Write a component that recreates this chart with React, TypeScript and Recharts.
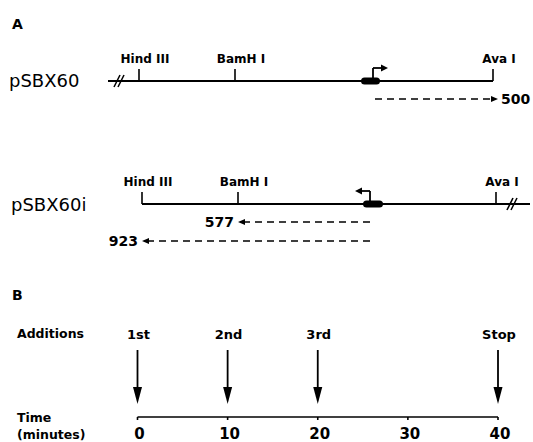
import React from "react";
import {
  ComposedChart,
  Line,
  XAxis,
  YAxis,
  ReferenceLine,
  ReferenceDot,
  ReferenceArea,
} from "recharts";

// restriction map, positions in bp (0 = Hind III site of pSBX60)
const siteNames = ["Hind III", "BamH I", "Ava I"];
const pSBX60Sites = [0, 384, 1416];
const pSBX60iSites = [12, 396, 1428];
const pSBX60Extent = [-124, 1416];
const pSBX60iExtent = [12, 1564];
const pSBX60Break = -76;
const pSBX60iBreak = 1496;
const pSBX60Box = [888, 964];
const pSBX60iBox = [896, 976];
const pSBX60Promoter = [936, 996]; // start, arrow tip
const pSBX60iPromoter = [924, 864];

// run-off transcripts (start, end, length)
const pSBX60Transcripts = [{ from: 944, to: 1436, label: "500" }];
const pSBX60iTranscripts = [
  { from: 924, to: 396, label: "577" },
  { from: 924, to: 12, label: "923" },
];

// panel B
const additionLabels = ["1st", "2nd", "3rd", "Stop"];
const additionTimes = [0, 10, 20, 40];
const timeTicks = [0, 10, 20, 30, 40];

const FONT = "'DejaVu Sans', Arial, sans-serif";
const INK = "#000";
const BP_PER_PX = 4;

const mapData = [
  { x: pSBX60Extent[0], y: 0 },
  { x: pSBX60iExtent[1], y: 0 },
];
const timeData = timeTicks.map((t) => ({ t, y: 0 }));

const textShape =
  (text: string, anchor: string, dx: number, size: number) => (p: any) =>
    (
      <text
        x={p.cx + dx}
        y={p.cy}
        dy="0.36em"
        textAnchor={anchor}
        fontFamily={FONT}
        fontSize={size}
        fontWeight="bold"
        fill={INK}
      >
        {text}
      </text>
    );

const headShape =
  (dir: string, len: number, half: number) => (p: any) => {
    const { cx, cy } = p;
    let pts = "";
    if (dir === "right") pts = `${cx},${cy} ${cx - len},${cy - half} ${cx - len},${cy + half}`;
    if (dir === "left") pts = `${cx},${cy} ${cx + len},${cy - half} ${cx + len},${cy + half}`;
    if (dir === "down") pts = `${cx},${cy} ${cx - half},${cy - len} ${cx + half},${cy - len}`;
    return <polygon points={pts} fill={INK} />;
  };

const breakShape = (p: any) => (
  <g stroke={INK} strokeWidth={1.6}>
    <line x1={p.cx - 6} y1={p.cy + 6} x2={p.cx} y2={p.cy - 6} />
    <line x1={p.cx - 2} y1={p.cy + 6} x2={p.cx + 4} y2={p.cy - 6} />
  </g>
);

const seg = (key: string, x1: number, y1: number, x2: number, y2: number, w = 2, dash?: string) => (
  <ReferenceLine
    key={key}
    segment={[
      { x: x1, y: y1 },
      { x: x2, y: y2 },
    ]}
    stroke={INK}
    strokeWidth={w}
    strokeDasharray={dash}
    ifOverflow="visible"
  />
);

const dot = (key: string, x: number, y: number, shape: any) => (
  <ReferenceDot key={key} x={x} y={y} r={1} shape={shape} ifOverflow="visible" />
);

function plasmid(
  id: string,
  row: number,
  sites: number[],
  extent: number[],
  brk: number,
  box: number[],
  promoter: number[],
  transcripts: { from: number; to: number; label: string }[]
) {
  const els: any[] = [];
  els.push(seg(id + "line", extent[0], row, extent[1], row, 2));
  sites.forEach((s, i) => {
    els.push(seg(id + "tick" + i, s, row, s, row - 12, 1.6));
    els.push(dot(id + "lab" + i, s, row - 22, textShape(siteNames[i], "middle", 6, 12)));
  });
  els.push(dot(id + "brk", brk, row, breakShape));
  els.push(
    <ReferenceArea
      key={id + "box"}
      x1={box[0]}
      x2={box[1]}
      y1={row - 3.5}
      y2={row + 3.5}
      ifOverflow="visible"
      shape={(p: any) => (
        <rect x={p.x} y={p.y} width={p.width} height={p.height} rx={3.5} fill={INK} />
      )}
    />
  );
  const pr = row - 13;
  const dir = promoter[1] > promoter[0] ? "right" : "left";
  els.push(seg(id + "pv", promoter[0], row, promoter[0], pr, 1.8));
  els.push(seg(id + "ph", promoter[0], pr, promoter[1] - (dir === "right" ? 12 : -12), pr, 1.8));
  els.push(dot(id + "phd", promoter[1], pr, headShape(dir, 7, 3.5)));
  transcripts.forEach((t, i) => {
    const y = row + 18 + i * 19;
    const right = t.to > t.from;
    els.push(seg(id + "tr" + i, t.from, y, t.to + (right ? -20 : 20), y, 1.6, "7 5"));
    els.push(dot(id + "trh" + i, t.to, y, headShape(right ? "right" : "left", 7, 3)));
    els.push(
      dot(id + "trl" + i, t.to, y, textShape(t.label, right ? "start" : "end", right ? 3 : -4, 14))
    );
  });
  return els;
}

const Label = ({ text, x, y, size, bold = true, spacing = 0 }: any) => (
  <div
    style={{
      position: "absolute",
      left: x,
      top: y,
      transform: "translateY(-50%)",
      fontFamily: FONT,
      fontSize: size,
      fontWeight: bold ? "bold" : "normal",
      letterSpacing: spacing,
      lineHeight: 1,
      whiteSpace: "nowrap",
      color: INK,
    }}
  >
    {text}
  </div>
);

export default function App() {
  return (
    <div
      style={{
        position: "absolute",
        left: 0,
        top: 0,
        width: 533,
        height: 442,
        background: "#fff",
        overflow: "hidden",
      }}
    >
      <Label text="A" x={12} y={24} size={14} />
      <Label text="pSBX60" x={9} y={81} size={18} bold={false} />
      <Label text="pSBX60i" x={11} y={205} size={18} bold={false} />
      <Label text="B" x={12} y={295} size={14} />
      <Label text="Additions" x={17} y={334} size={12.5} />
      <Label text="Time" x={17} y={418} size={12.5} />
      <Label text="(minutes)" x={17} y={435} size={12.5} />

      <div style={{ position: "absolute", left: 0, top: 0 }}>
        <ComposedChart
          width={533}
          height={260}
          data={mapData}
          margin={{ top: 0, right: 0, bottom: 0, left: 0 }}
        >
          <XAxis
            dataKey="x"
            type="number"
            hide
            domain={[-139 * BP_PER_PX, (533 - 139) * BP_PER_PX]}
            allowDataOverflow
          />
          <YAxis type="number" hide reversed domain={[0, 260]} allowDataOverflow width={0} />
          <Line dataKey="y" stroke="none" dot={false} isAnimationActive={false} />
          {plasmid(
            "a",
            81,
            pSBX60Sites,
            pSBX60Extent,
            pSBX60Break,
            pSBX60Box,
            pSBX60Promoter,
            pSBX60Transcripts
          )}
          {plasmid(
            "b",
            204,
            pSBX60iSites,
            pSBX60iExtent,
            pSBX60iBreak,
            pSBX60iBox,
            pSBX60iPromoter,
            pSBX60iTranscripts
          )}
        </ComposedChart>
      </div>

      <div style={{ position: "absolute", left: 0, top: 280 }}>
        <ComposedChart
          width={533}
          height={162}
          data={timeData}
          margin={{ top: 0, right: 35, bottom: 0, left: 137.5 }}
        >
          <XAxis
            dataKey="t"
            type="number"
            domain={[0, 40]}
            ticks={timeTicks}
            interval={0}
            allowDataOverflow
            height={25}
            tickSize={3}
            tickMargin={8}
            axisLine={{ stroke: INK, strokeWidth: 1.6 }}
            tickLine={{ stroke: INK, strokeWidth: 1.6 }}
            tick={{ fill: INK, fontSize: 15, fontFamily: FONT, fontWeight: "bold", dx: 2 }}
          />
          <YAxis type="number" hide reversed domain={[0, 137]} allowDataOverflow width={0} />
          <Line dataKey="y" stroke="none" dot={false} isAnimationActive={false} />
          {additionTimes.map((t, i) => [
            seg("ad" + i, t, 70, t, 110, 1.8),
            dot("adh" + i, t, 124, headShape("down", 17, 4.5)),
            dot("adl" + i, t, 54, textShape(additionLabels[i], "middle", 1, 13)),
          ])}
        </ComposedChart>
      </div>
    </div>
  );
}
